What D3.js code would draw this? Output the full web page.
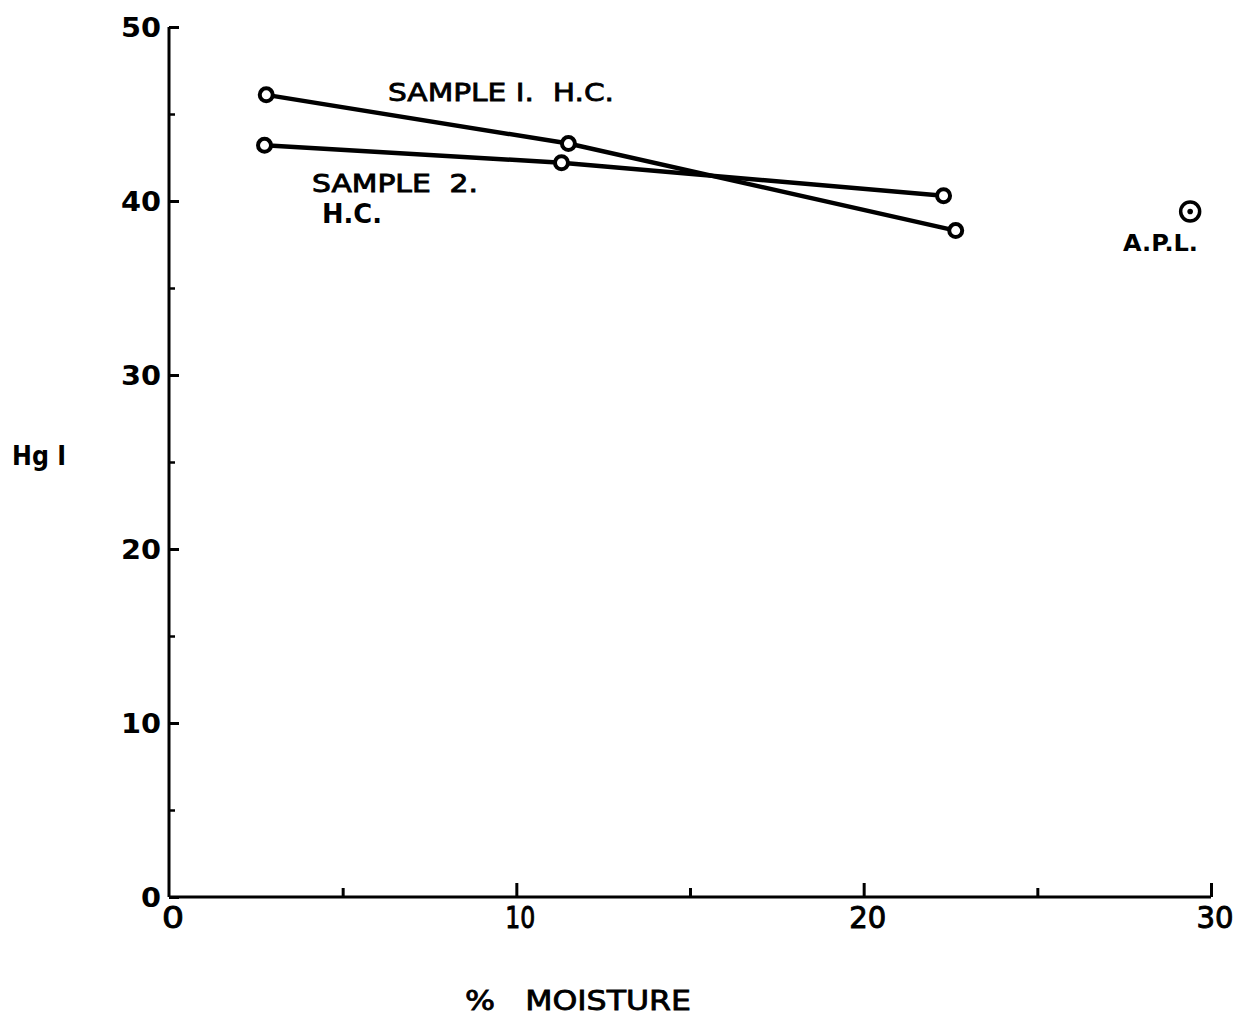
<!DOCTYPE html>
<html><head><meta charset="utf-8">
<script src="https://cdn.jsdelivr.net/npm/d3@7"></script>
<style>body{margin:0;background:#fff}svg{display:block}text{font-family:"DejaVu Sans",Arial,sans-serif;fill:#000}</style>
</head><body>
<script>
// Data
const sample1X = [2.8, 11.5, 22.65];
const sample1Y = [46.1, 43.3, 38.3];
const sample2X = [2.75, 11.3, 22.3];
const sample2Y = [43.2, 42.2, 40.3];
const aplX = [29.4];
const aplY = [39.4];
const xTicks = [0, 10, 20, 30];
const xMinorTicks = [5, 15, 25];
const yTicks = [0, 10, 20, 30, 40, 50];
const yMinorTicks = [5, 15, 25, 35, 45];

const W = 1253, H = 1018;
const svg = d3.select("body").append("svg").attr("width", W).attr("height", H);
const x = d3.scaleLinear().domain([0, 30]).range([169, 1211]);
const y = d3.scaleLinear().domain([0, 50]).range([897, 27]);

// axes lines
svg.append("line").attr("x1", x(0)).attr("x2", x(0)).attr("y1", y(0)).attr("y2", y(50))
  .attr("stroke", "#000").attr("stroke-width", 3);
svg.append("line").attr("x1", x(0)).attr("x2", x(30)).attr("y1", y(0)).attr("y2", y(0))
  .attr("stroke", "#000").attr("stroke-width", 3);

// y ticks via axis
const yAxis = d3.axisRight(y).tickValues(yTicks).tickSize(10).tickFormat("");
const gy = svg.append("g").attr("transform", `translate(${x(0)},0)`).call(yAxis);
gy.select(".domain").remove();
gy.selectAll(".tick line").attr("stroke", "#000").attr("stroke-width", 3);
const yAxisMinor = d3.axisRight(y).tickValues(yMinorTicks).tickSize(6).tickFormat("");
const gym = svg.append("g").attr("transform", `translate(${x(0)},0)`).call(yAxisMinor);
gym.select(".domain").remove();
gym.selectAll(".tick line").attr("stroke", "#000").attr("stroke-width", 2.5);
svg.append("g").selectAll("text").data(yTicks).join("text")
  .attr("x", x(0) - 8).attr("y", d => y(d)).attr("dy", "0.36em")
  .attr("text-anchor", "end").attr("font-size", 27).attr("font-weight", "bold")
  .attr("textLength", d => d === 0 ? 20 : 40).attr("lengthAdjust", "spacingAndGlyphs")
  .text(d => d);

// x ticks
const xAxis = d3.axisTop(x).tickValues(xTicks.filter(d => d > 0)).tickSize(14).tickFormat("");
const gx = svg.append("g").attr("transform", `translate(0,${y(0)})`).call(xAxis);
gx.select(".domain").remove();
gx.selectAll(".tick line").attr("stroke", "#000").attr("stroke-width", 3);
const xAxisMinor = d3.axisTop(x).tickValues(xMinorTicks).tickSize(9).tickFormat("");
const gxm = svg.append("g").attr("transform", `translate(0,${y(0)})`).call(xAxisMinor);
gxm.select(".domain").remove();
gxm.selectAll(".tick line").attr("stroke", "#000").attr("stroke-width", 3);
svg.append("g").selectAll("text").data(xTicks).join("text")
  .attr("x", d => x(d) + 4).attr("y", y(0) + 31)
  .attr("text-anchor", "middle").attr("font-size", 30)
  .attr("stroke", "#000").attr("stroke-width", 1)
  .attr("textLength", d => d === 0 ? 22 : (d === 10 ? 30 : 37)).attr("lengthAdjust", "spacingAndGlyphs")
  .text(d => d);

// lines
const line = d3.line().x(d => x(d[0])).y(d => y(d[1]));
const s1 = sample1X.map((v, i) => [v, sample1Y[i]]);
const s2 = sample2X.map((v, i) => [v, sample2Y[i]]);
[s1, s2].forEach(s => {
  svg.append("path").datum(s).attr("d", line).attr("fill", "none")
    .attr("stroke", "#000").attr("stroke-width", 4.5);
});
[s1, s2].forEach(s => {
  svg.append("g").selectAll("circle").data(s).join("circle")
    .attr("cx", d => x(d[0])).attr("cy", d => y(d[1])).attr("r", 6.5)
    .attr("fill", "#fff").attr("stroke", "#000").attr("stroke-width", 4);
});

// A.P.L. point
const apl = aplX.map((v, i) => [v, aplY[i]]);
svg.append("g").selectAll("circle").data(apl).join("circle")
  .attr("cx", d => x(d[0])).attr("cy", d => y(d[1])).attr("r", 9.5)
  .attr("fill", "#fff").attr("stroke", "#000").attr("stroke-width", 3.5);
svg.append("g").selectAll("circle").data(apl).join("circle")
  .attr("cx", d => x(d[0])).attr("cy", d => y(d[1])).attr("r", 2.8).attr("fill", "#000");

// labels
function lab(t, px, py, size, len, weight, sw) {
  svg.append("text").attr("x", px).attr("y", py).attr("font-size", size)
    .attr("font-weight", weight || "normal")
    .attr("stroke", "#000").attr("stroke-width", sw || 0)
    .attr("textLength", len).attr("lengthAdjust", "spacingAndGlyphs")
    .style("white-space", "pre").text(t);
}
lab("SAMPLE I.  H.C.", 388, 101, 25, 226, "normal", 0.8);
lab("SAMPLE  2.", 312, 192, 25, 166, "normal", 0.9);
lab("H.C.", 322, 223, 26, 60, "bold");
lab("A.P.L.", 1123, 251, 23, 75, "bold");
lab("Hg I", 12, 465, 27, 54, "bold");
lab("%   MOISTURE", 465, 1010, 27, 226, "normal", 0.8);
</script>
</body></html>
